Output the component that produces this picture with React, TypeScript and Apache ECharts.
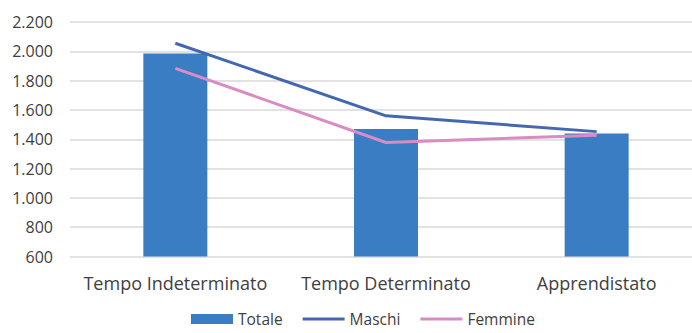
import React, { useEffect, useRef } from "react";
import * as echarts from "echarts";

const categories = ["Tempo Indeterminato", "Tempo Determinato", "Apprendistato"];
const totale = [1985, 1470, 1440];
const maschi = [2055, 1560, 1452];
const femmine = [1884, 1378, 1427];

export default function App() {
  const ref = useRef<HTMLDivElement>(null);
  useEffect(() => {
    const chart = echarts.init(ref.current!, null, { renderer: "svg" });
    const font = "Open Sans";
    const lineIcon = "path://M0,0H42V3H0Z";
    chart.setOption({
      animation: false,
      backgroundColor: "#ffffff",
      grid: { left: 70, top: 22, right: 8, height: 234.5, containLabel: false },
      legend: {
        bottom: 1,
        left: 186,
        itemWidth: 42,
        itemHeight: 10,
        itemGap: 20,
        textStyle: { fontFamily: font, fontSize: 15.5, color: "#404040" },
        data: [
          { name: "Totale", icon: "rect" },
          { name: "Maschi", icon: lineIcon },
          { name: "Femmine", icon: lineIcon },
        ],
      },
      xAxis: {
        type: "category",
        data: categories,
        axisLine: { show: false },
        axisTick: { show: false },
        axisLabel: { fontFamily: font, fontSize: 18, color: "#404040", margin: 17, interval: 0 },
      },
      yAxis: {
        type: "value",
        min: 600,
        max: 2200,
        interval: 200,
        axisLabel: {
          fontFamily: font,
          fontSize: 16,
          color: "#404040",
          margin: 17,
          formatter: (v: number) => v.toLocaleString("it-IT").replace(/,/g, "."),
        },
        splitLine: { lineStyle: { color: "#d9d9d9", width: 1.5 } },
      },
      series: [
        {
          name: "Totale",
          type: "bar",
          data: totale,
          barWidth: 64,
          itemStyle: { color: "#3A7DC2" },
        },
        {
          name: "Maschi",
          type: "line",
          data: maschi,
          symbol: "none",
          lineStyle: { color: "#4468AF", width: 3 },
          itemStyle: { color: "#4468AF" },
        },
        {
          name: "Femmine",
          type: "line",
          data: femmine,
          symbol: "none",
          lineStyle: { color: "#D98CC4", width: 3 },
          itemStyle: { color: "#D98CC4" },
        },
      ],
    });
    return () => chart.dispose();
  }, []);
  return (
    <div style={{ position: "fixed", left: 0, top: 0, width: 692, height: 333, overflow: "hidden" }}>
      <div ref={ref} style={{ width: 710, height: 333 }} />
    </div>
  );
}
